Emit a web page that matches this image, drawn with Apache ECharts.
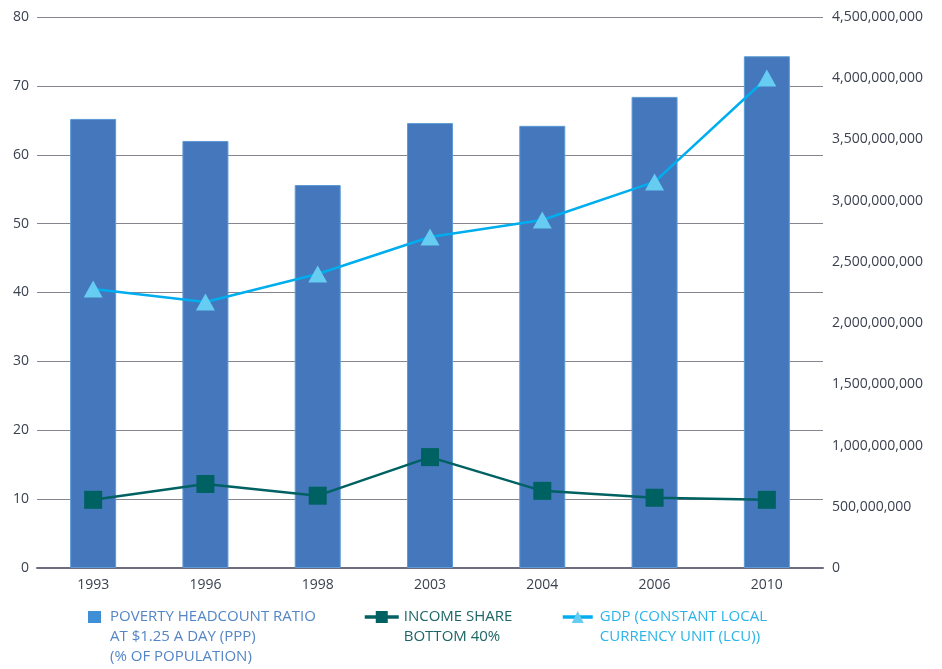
<!DOCTYPE html>
<html>
<head>
<meta charset="utf-8">
<script src="https://cdn.jsdelivr.net/npm/echarts@6/dist/echarts.min.js"></script>
<style>html,body{margin:0;padding:0;background:#fff}#c{width:942px;height:669px}</style>
</head>
<body>
<div id="c"></div>
<script>
const years = ['1993', '1996', '1998', '2003', '2004', '2006', '2010'];
const povertyRatio = [65.2, 62.0, 55.6, 64.6, 64.2, 68.4, 74.3];
const incomeShare = [9.9, 12.2, 10.5, 16.1, 11.2, 10.2, 9.9];
const gdpLcu = [2279000000, 2173000000, 2401000000, 2703000000, 2842000000, 3153000000, 4002000000];
const leftTicks = {min: 0, max: 80, interval: 10};
const rightTicks = {min: 0, max: 4500000000, interval: 500000000};
const names = {
  poverty: 'POVERTY HEADCOUNT RATIO\nAT $1.25 A DAY (PPP)\n(% OF POPULATION)',
  income: 'INCOME SHARE\nBOTTOM 40%',
  gdp: 'GDP (CONSTANT LOCAL\nCURRENCY UNIT (LCU))'
};

const FONT = '"Open Sans", sans-serif';
const chart = echarts.init(document.getElementById('c'), null, {renderer: 'canvas'});
const lgBase = {orient: 'horizontal', padding: 0, selectedMode: false,
  // pad with blank lines on top so the icon sits beside the first line
  formatter: n => '\n'.repeat(n.split('\n').length - 1) + n};
function lgText(color, padLeft) {
  return {color: color, fontFamily: FONT, fontSize: 15, lineHeight: 20, padding: [0, 0, 0, padLeft]};
}
chart.setOption({
  animation: false,
  grid: {left: 37, right: 119, top: 17, bottom: 101},
  legend: [
    Object.assign({}, lgBase, {data: [{name: names.poverty, icon: 'rect', itemStyle: {color: '#3f8fd6', borderWidth: 0}}],
      left: 88, top: 567, itemWidth: 13, itemHeight: 12, textStyle: lgText('#5486c6', 4)}),
    Object.assign({}, lgBase, {data: [{name: names.income, lineStyle: {width: 3.5}}], left: 363, top: 587, itemWidth: 34, itemHeight: 15,
      textStyle: lgText('#1d6667', 0)}),
    Object.assign({}, lgBase, {data: [{name: names.gdp, lineStyle: {width: 3.5}}], left: 561, top: 587, itemWidth: 30, itemHeight: 15,
      textStyle: lgText('#2ab4e9', 2)})
  ],
  xAxis: {
    type: 'category', data: years,
    axisLine: {lineStyle: {color: '#6e6d80', width: 2}},
    axisTick: {show: false},
    axisLabel: {color: '#3b4150', fontFamily: FONT, fontSize: 14, margin: 10}
  },
  yAxis: [
    Object.assign({type: 'value', position: 'left',
      axisLine: {show: false}, axisTick: {show: false},
      axisLabel: {color: '#3b4150', fontFamily: FONT, fontSize: 14, margin: 8},
      splitLine: {lineStyle: {color: '#85848f', width: 1}}}, leftTicks),
    Object.assign({type: 'value', position: 'right',
      axisLine: {show: false}, axisTick: {show: false},
      axisLabel: {color: '#3b4150', fontFamily: FONT, fontSize: 14, margin: 9,
        formatter: v => v.toLocaleString('en-US')},
      splitLine: {show: false}}, rightTicks)
  ],
  series: [
    {name: names.poverty, type: 'bar', data: povertyRatio, yAxisIndex: 0, barWidth: 46,
      itemStyle: {color: '#4477bb', borderColor: '#5d9bd6', borderWidth: 1}},
    {name: names.income, type: 'line', data: incomeShare, yAxisIndex: 0,
      symbol: 'rect', symbolSize: 18,
      lineStyle: {color: '#006162', width: 2.5},
      itemStyle: {color: '#006162'}},
    {name: names.gdp, type: 'line', data: gdpLcu, yAxisIndex: 1,
      symbol: 'triangle', symbolSize: [19, 17],
      lineStyle: {color: '#00aeef', width: 2.5},
      itemStyle: {color: '#66ccf2'}}
  ]
});
</script>
</body>
</html>
